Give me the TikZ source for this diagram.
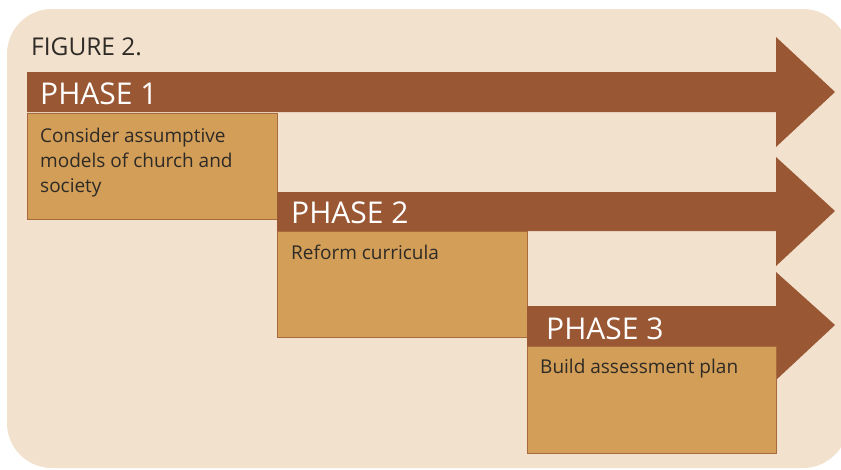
\documentclass[tikz,border=0pt]{standalone}
\usepackage{fontspec}
\setmainfont{Open Sans}

\definecolor{bgtan}{HTML}{F2E1CC}
\definecolor{arrowbrown}{HTML}{9A5733}
\definecolor{boxtan}{HTML}{D29E58}
\definecolor{boxedge}{HTML}{A86A3C}
\definecolor{inktext}{HTML}{2E2A26}

\tikzset{
	phasearrow/.style={fill=arrowbrown},
	phasebox/.style={fill=boxtan, draw=boxedge, line width=0.8pt},
	phaselabel/.style={anchor=base west, inner sep=0pt, text=white,
		font=\fontsize{30}{30}\selectfont},
	boxtext/.style={anchor=base west, inner sep=0pt, text=inktext, align=left,
		font=\fontsize{19}{25}\selectfont},
}

\begin{document}
\begin{tikzpicture}[x=1pt, y=-1pt]

	\useasboundingbox (0,0) rectangle (841,469);
	\fill[bgtan, rounded corners=45pt] (7,9) rectangle (848,468);

	\node[anchor=base west, inner sep=0pt, text=inktext,
		font=\fontsize{24.5}{24.5}\selectfont] (figtitle) at (31,55) {FIGURE 2.};

	% phase 1
	\fill[phasearrow] (27,72) -- (776,72) -- (776,37) -- (835,92)
		-- (776,147) -- (776,112) -- (27,112) -- cycle;
	\draw[phasebox] (27,113) rectangle (277,219);
	\node[phaselabel] (phaseone) at (40,104) {PHASE 1};
	% base of a multi-line node sits on its last line
	\node[boxtext] (stepone) at (40,192) {Consider assumptive\\models of church and\\society};

	% phase 2
	\fill[phasearrow] (277,192) -- (776,192) -- (776,157) -- (835,211)
		-- (776,266) -- (776,231) -- (277,231) -- cycle;
	\draw[phasebox] (277,231) rectangle (527,337);
	\node[phaselabel] (phasetwo) at (291,223) {PHASE 2};
	\node[boxtext] (steptwo) at (291,259) {Reform curricula};

	% phase 3
	\fill[phasearrow] (527,306) -- (776,306) -- (776,272) -- (835,325)
		-- (776,380) -- (776,346) -- (527,346) -- cycle;
	\draw[phasebox] (527,346) rectangle (776,453);
	\node[phaselabel] (phasethree) at (546,339) {PHASE 3};
	\node[boxtext] (stepthree) at (540,373) {Build assessment plan};

\end{tikzpicture}
\end{document}
